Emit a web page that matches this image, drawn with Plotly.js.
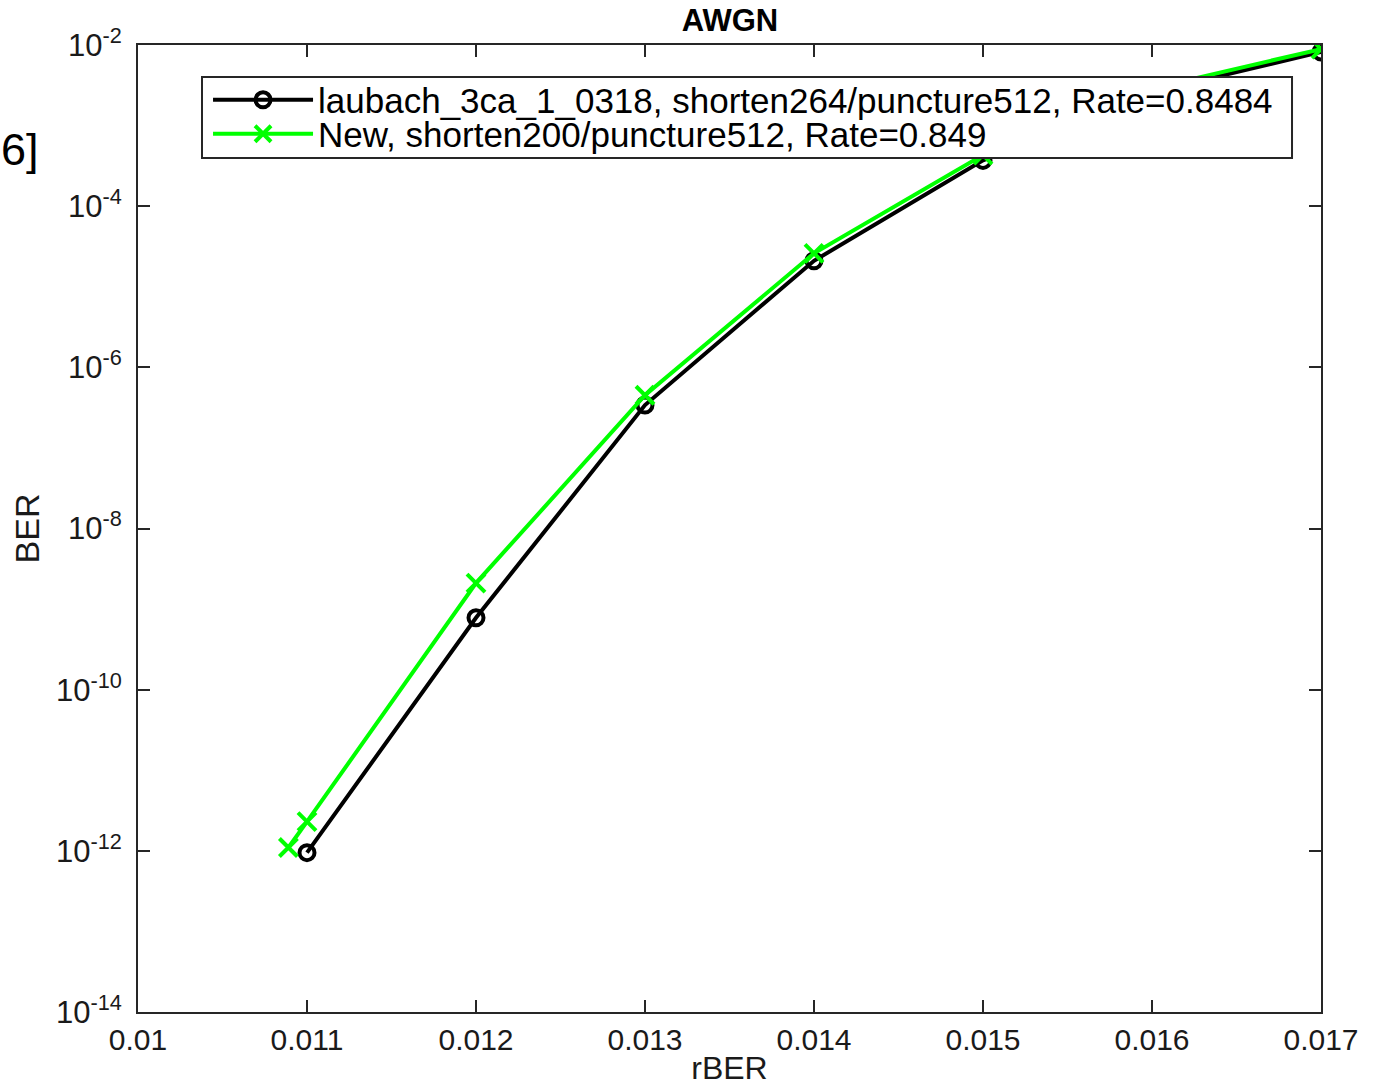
<!DOCTYPE html>
<html><head><meta charset="utf-8">
<script src="https://cdn.plot.ly/plotly-3.0.1.min.js"></script>
<style>body{margin:0;background:#fff}#plot{width:1379px;height:1086px}</style>
</head><body><div id="plot"></div>
<script>
const xBlack = [0.011, 0.012, 0.013, 0.014, 0.015, 0.016, 0.017];
const yBlack = [9.5e-13, 7.8e-10, 3.4e-7, 2.1e-5, 3.7e-4, 2.6e-3, 8.2e-3];
const xGreen = [0.01089, 0.011, 0.012, 0.013, 0.014, 0.015, 0.016, 0.017];
const yGreen = [1.1e-12, 2.3e-12, 2.1e-9, 4.5e-7, 2.6e-5, 4.3e-4, 2.9e-3, 8.9e-3];
const nameBlack = 'laubach_3ca_1_0318, shorten264/puncture512, Rate=0.8484';
const nameGreen = 'New, shorten200/puncture512, Rate=0.849';
const xTicks = [0.01, 0.011, 0.012, 0.013, 0.014, 0.015, 0.016, 0.017];
const yTickExp = [-2, -4, -6, -8, -10, -12, -14];

const font = 'Liberation Sans, Arial, sans-serif';
const traces = [
  {x: xBlack, y: yBlack, name: nameBlack, mode: 'lines+markers', type: 'scatter', legend: 'legend',
   line: {color: '#000000', width: 4},
   marker: {symbol: 'circle-open', size: 15, color: '#000000', line: {width: 4, color: '#000000'}}},
  {x: xGreen, y: yGreen, name: nameGreen, mode: 'lines+markers', type: 'scatter', legend: 'legend2',
   line: {color: '#00ff00', width: 4},
   marker: {symbol: 'x-thin-open', size: 18, color: '#00ff00', line: {width: 4, color: '#00ff00'}}}
];
const legBase = {x: 0.0592, xanchor: 'left', yanchor: 'middle', bgcolor: 'rgba(0,0,0,0)',
  borderwidth: 0, font: {size: 35, color: '#000', family: font}, itemwidth: 100};
const layout = {
  width: 1379, height: 1086,
  margin: {l: 138, r: 58, t: 45, b: 74},
  paper_bgcolor: '#ffffff', plot_bgcolor: '#ffffff',
  font: {family: font, color: '#1a1a1a'},
  title: {text: '<b>AWGN</b>', font: {size: 31, color: '#000'}, x: 0.5294, xanchor: 'center', y: 0.981, yanchor: 'middle'},
  xaxis: {range: [0.01, 0.017], tickvals: xTicks, ticktext: xTicks.map(v => String(v)),
    ticks: 'inside', ticklen: 12, tickwidth: 2, tickcolor: '#262626', mirror: 'ticks',
    showline: true, linecolor: '#262626', linewidth: 2, showgrid: false, zeroline: false,
    tickfont: {size: 30, color: '#1a1a1a'},
    title: {text: 'rBER', font: {size: 32, color: '#1a1a1a'}, standoff: 4}},
  yaxis: {type: 'log', range: [-14, -2],
    tickvals: yTickExp.map(e => Math.pow(10, e)), ticktext: yTickExp.map(e => '10<sup>' + e + '</sup>'),
    ticks: 'inside', ticklen: 12, tickwidth: 2, tickcolor: '#262626', mirror: 'ticks',
    showline: true, linecolor: '#262626', linewidth: 2, showgrid: false, zeroline: false,
    tickfont: {size: 31, color: '#1a1a1a'}, ticklabelstandoff: 8,
    title: {text: 'BER', font: {size: 34, color: '#1a1a1a'}, standoff: 6}},
  showlegend: true,
  legend: Object.assign({}, legBase, {y: 0.9431}),
  legend2: Object.assign({}, legBase, {y: 0.9080}),
  shapes: [{type: 'rect', xref: 'paper', yref: 'paper', x0: 0.0541, x1: 0.9755, y0: 0.8831, y1: 0.9669,
    layer: 'above', fillcolor: '#ffffff', line: {color: '#262626', width: 2}}],
  annotations: [{text: '6]', xref: 'paper', yref: 'paper', x: -0.1175, y: 0.8915,
    xanchor: 'left', yanchor: 'middle', showarrow: false, font: {size: 45, color: '#000'}}]
};
Plotly.newPlot('plot', traces, layout, {displayModeBar: false});
</script></body></html>
